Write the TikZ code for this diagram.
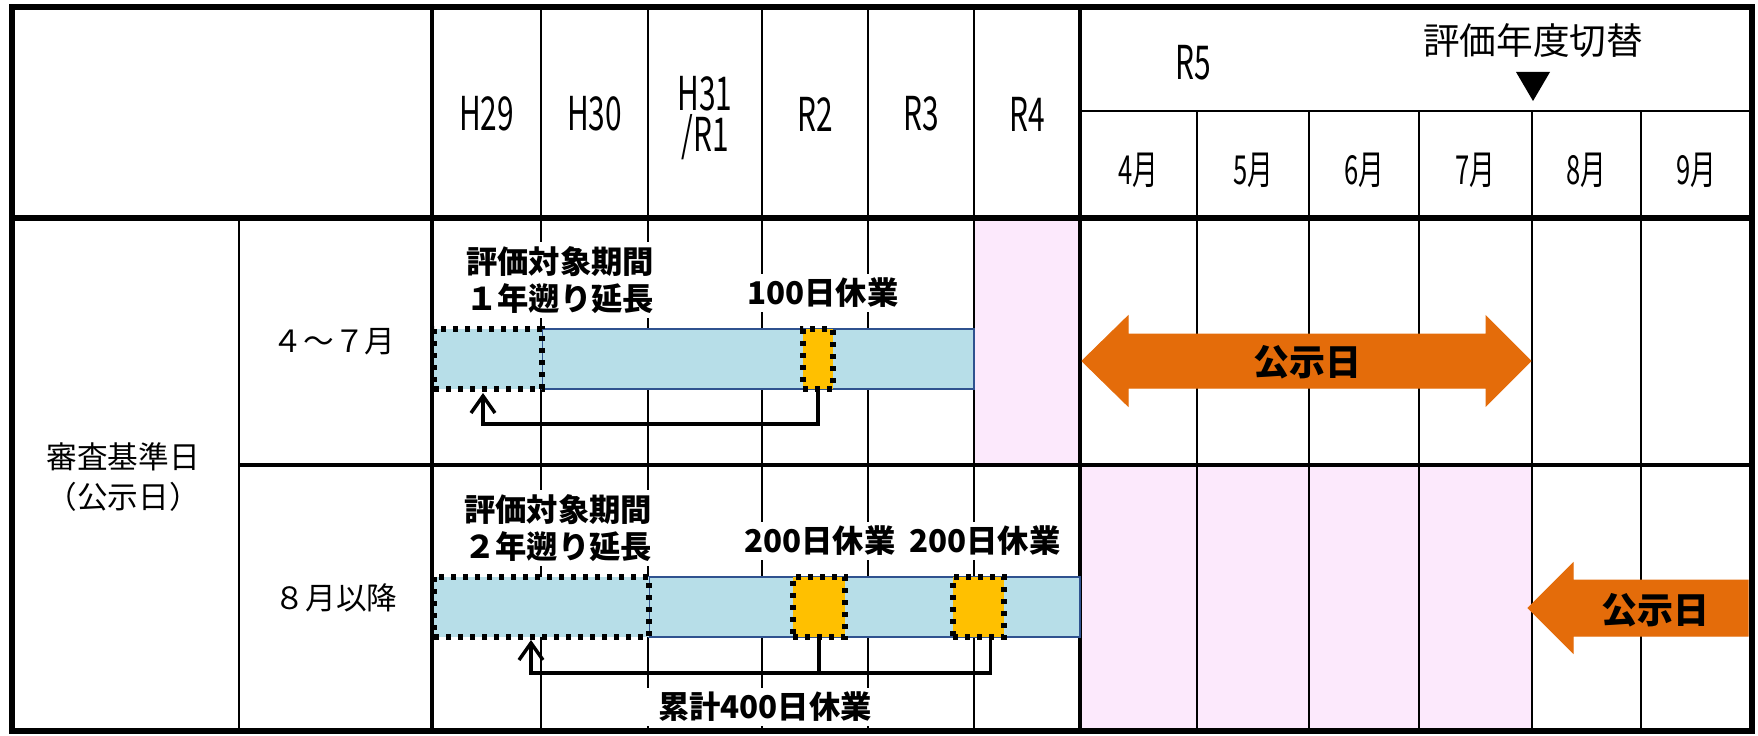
\documentclass[tikz,border=0pt]{standalone}
\usepackage{amsmath}
\usepackage{fontspec}
\setmainfont{Noto Sans CJK JP}
\newfontfamily\condfont[FakeStretch=0.64]{Noto Sans CJK JP}
\usepackage{tikz}

\begin{document}
\begin{tikzpicture}[x=0.75pt,y=0.75pt,yscale=-1,xscale=1,
        gridline/.style={line width=1.5pt},
        frameline/.style={line width=4pt},
        yearlbl/.style={font=\condfont\fontsize{35}{31}\selectfont, inner sep=0.75pt, align=center},
        monthlbl/.style={font=\condfont\fontsize{30}{30}\selectfont, inner sep=0.75pt},
        rowlbl/.style={font=\fontsize{23}{30}\selectfont, inner sep=0.75pt, align=center},
        barlbl/.style={font=\bfseries\fontsize{23.5}{28}\selectfont, fill=white, inner sep=3pt, align=center},
        termbar/.style={fill={rgb, 255:red, 183; green, 222; blue, 232 }, draw={rgb, 255:red, 47; green, 82; blue, 143 }, line width=2.2pt},
        extbar/.style={fill={rgb, 255:red, 183; green, 222; blue, 232 }, draw=black, line width=4.5pt, dash pattern={on 4pt off 5pt}},
        holbox/.style={fill={rgb, 255:red, 255; green, 192; blue, 0 }, draw=black, line width=4.5pt, dash pattern={on 4pt off 5pt}, inner sep=0pt},
        pubarrow/.style={draw={rgb, 255:red, 228; green, 108; blue, 10 }, fill={rgb, 255:red, 228; green, 108; blue, 10 }, line width=0.75pt},
        publbl/.style={font=\bfseries\fontsize{27}{32}\selectfont, inner sep=0.75pt},
        conn/.style={line width=2.6pt}
    ]
        \useasboundingbox (0,0) rectangle (1758,735);

        %Shape: Rectangle
        \fill [fill={rgb, 255:red, 252; green, 233; blue, 252 }] (974,218) rectangle (1080,465);
        %Shape: Rectangle
        \fill [fill={rgb, 255:red, 252; green, 233; blue, 252 }] (1080,465) rectangle (1532,731);

        %Straight Lines
        \draw [gridline] (541,7) -- (541,731);
        \draw [gridline] (648,7) -- (648,731);
        \draw [gridline] (762,7) -- (762,731);
        \draw [gridline] (868,7) -- (868,731);
        \draw [gridline] (974,7) -- (974,731);
        %Straight Lines
        \draw [gridline] (1080,111) -- (1752,111);
        \draw [gridline] (1197,111) -- (1197,731);
        \draw [gridline] (1309,111) -- (1309,731);
        \draw [gridline] (1419,111) -- (1419,731);
        \draw [gridline] (1532,111) -- (1532,731);
        \draw [gridline] (1641,111) -- (1641,731);
        %Straight Lines
        \draw [gridline] (239,218) -- (239,731);
        \draw [line width=2.4pt] (239,465) -- (1752,465);

        % Text Node
        \draw (560,280) node [barlbl] (ext1lbl) {評価対象期間\\１年遡り延長};
        % Text Node
        \draw (823,293) node [barlbl] (hol1lbl) {100日休業};
        % Text Node
        \draw (558,528) node [barlbl] (ext2lbl) {評価対象期間\\２年遡り延長};
        % Text Node
        \draw (820,541) node [barlbl] (hol2albl) {200日休業};
        % Text Node
        \draw (985,541) node [barlbl] (hol2blbl) {200日休業};
        % Text Node
        \draw (765,707) node [barlbl, inner xsep=10pt] (sumlbl) {累計400日休業};

        %Shape: Rectangle
        \draw [frameline] (12,7) rectangle (1752,731);
        %Straight Lines
        \draw [frameline] (12,218) -- (1752,218);
        \draw [line width=3pt] (432,7) -- (432,731);
        \draw [line width=3pt] (1080,7) -- (1080,731);

        %Shape: Rectangle
        \draw [termbar] (542,329) rectangle (974,389);
        \draw [extbar] (434,329) rectangle (542,389);
        \draw (818,359) node [holbox, minimum width=22.5pt, minimum height=45pt] (hol1) {};
        %Shape: Rectangle
        \draw [termbar] (649,577) rectangle (1080,637);
        \draw [extbar] (434,577) rectangle (649,637);
        \draw (819,607) node [holbox, minimum width=39pt, minimum height=45pt] (hol2a) {};
        \draw (978.5,607) node [holbox, minimum width=38.25pt, minimum height=45pt] (hol2b) {};

        %Straight Lines
        \coordinate (bend1) at (483,424);
        \coordinate (tip1) at (483,396);
        \draw [conn] (hol1.south) |- (bend1) -- (tip1);
        \draw [conn, shift={(tip1)}, rotate = 90] (17,-12) -- (0,0) -- (17,12);
        %Straight Lines
        \coordinate (bend2) at (531,673);
        \coordinate (tip2) at (531,643);
        \draw [conn] ([xshift=9pt]hol2b.south) |- (bend2) -- (tip2);
        \draw [conn] (hol2a.south) -- (hol2a.south |- bend2);
        \draw [conn, shift={(tip2)}, rotate = 90] (17,-12) -- (0,0) -- (17,12);

        %Shape: Polygon
        \draw [pubarrow] (1082,361) -- (1128,316) -- (1128,334) -- (1486,334) -- (1486,316) -- (1531,361) -- (1486,406) -- (1486,388) -- (1128,388) -- (1128,406) -- cycle;
        % Text Node
        \draw (1307,362) node [publbl] (pub1) {公示日};
        %Shape: Polygon
        \draw [pubarrow] (1528,608) -- (1573,563) -- (1573,580) -- (1748,580) -- (1748,636) -- (1573,636) -- (1573,653) -- cycle;
        % Text Node
        \draw (1655,610) node [publbl] (pub2) {公示日};

        %Shape: Triangle
        \fill (1516,72) -- (1550,72) -- (1533,101) -- cycle;
        % Text Node
        \draw (1533,41) node [font=\fontsize{27.5}{32}\selectfont, inner sep=0.75pt] (switchlbl) {評価年度切替};

        % Text Node
        \draw (486.5,114) node [yearlbl] (yH29) {H29};
        \draw (594.5,114) node [yearlbl] (yH30) {H30};
        \draw (705,118) node [yearlbl] (yH31) {H31\\/R1};
        \draw (815,114) node [yearlbl] (yR2) {R2};
        \draw (921,114) node [yearlbl] (yR3) {R3};
        \draw (1027,114) node [yearlbl] (yR4) {R4};
        \draw (1193,63) node [yearlbl] (yR5) {R5};
        % Text Node
        \draw (1138.5,170) node [monthlbl] (m4) {4月};
        \draw (1253,170) node [monthlbl] (m5) {5月};
        \draw (1364,170) node [monthlbl] (m6) {6月};
        \draw (1475.5,170) node [monthlbl] (m7) {7月};
        \draw (1586.5,170) node [monthlbl] (m8) {8月};
        \draw (1696.5,170) node [monthlbl] (m9) {9月};

        % Text Node
        \draw (123,477) node [rowlbl] (critlbl) {審査基準日\\（公示日）};
        % Text Node
        \draw (334,342) node [rowlbl] (row1lbl) {４～７月};
        % Text Node
        \draw (336,598) node [rowlbl] (row2lbl) {８月以降};

    \end{tikzpicture}
\end{document}
